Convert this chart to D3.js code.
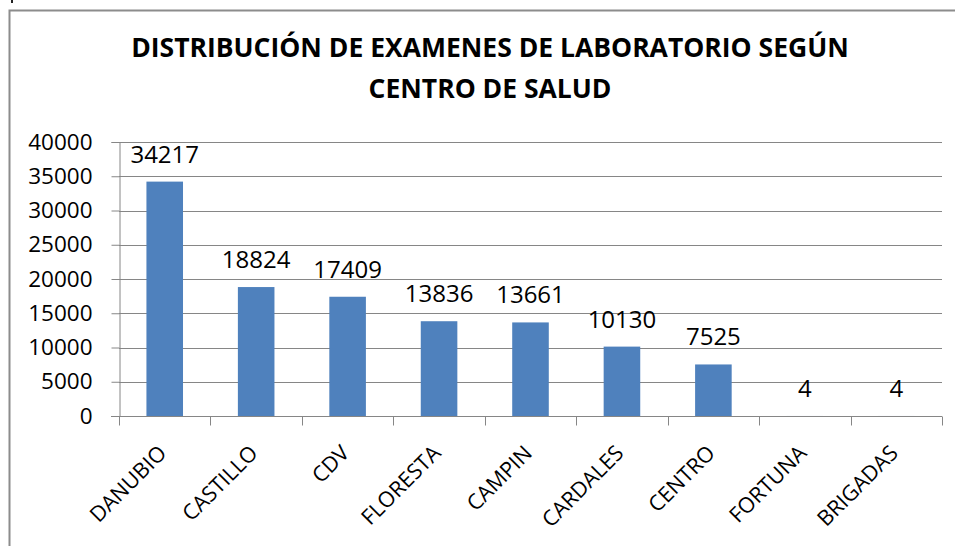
<!DOCTYPE html>
<html>
<head>
<meta charset="utf-8">
<script src="https://cdn.jsdelivr.net/npm/d3@7"></script>
<style>
  body { margin: 0; background: #fff; }
  svg { display: block; }
</style>
</head>
<body>
<div id="chart"></div>
<script>
// chart data
const centros = ["DANUBIO", "CASTILLO", "CDV", "FLORESTA", "CAMPIN", "CARDALES", "CENTRO", "FORTUNA", "BRIGADAS"];
const examenes = [34217, 18824, 17409, 13836, 13661, 10130, 7525, 4, 4];
const yTicks = [0, 5000, 10000, 15000, 20000, 25000, 30000, 35000, 40000];
const titleLines = ["DISTRIBUCIÓN DE EXAMENES DE LABORATORIO SEGÚN", "CENTRO DE SALUD"];

const width = 955, height = 546;
const margin = { top: 142, right: 13, bottom: 130, left: 119 };
const innerW = width - margin.left - margin.right;
const innerH = height - margin.top - margin.bottom;
const font = "'Open Sans', sans-serif";
const gridColor = "#868686";

const svg = d3.select("#chart").append("svg")
  .attr("width", width)
  .attr("height", height);

// outer frame (only left and top edges visible in the crop)
svg.append("path")
  .attr("d", "M9.5," + height + "V10.5H" + width)
  .attr("fill", "none")
  .attr("stroke", "#8c8c8c")
  .attr("stroke-width", 2);
// little stray mark above the frame corner
svg.append("rect")
  .attr("x", 11).attr("y", 0)
  .attr("width", 2).attr("height", 3)
  .attr("fill", "#222");

// title
svg.append("g").selectAll("text")
  .data(titleLines)
  .enter().append("text")
  .attr("x", 490)
  .attr("y", (d, i) => 57 + i * 41)
  .attr("text-anchor", "middle")
  .attr("font-family", font)
  .attr("font-weight", "bold")
  .attr("font-size", "26.5px")
  .attr("fill", "#000")
  .text(d => d);

const chart = svg.append("g")
  .attr("transform", "translate(" + margin.left + "," + margin.top + ")");

const x = d3.scaleBand().domain(centros).range([0, innerW]).paddingInner(0).paddingOuter(0);
const y = d3.scaleLinear().domain([0, 40000]).range([innerH, 0]);

// horizontal gridlines
chart.append("g")
  .selectAll("line")
  .data(yTicks.filter(d => d > 0))
  .enter().append("line")
  .attr("x1", 0).attr("x2", innerW)
  .attr("y1", d => Math.round(y(d)) + 0.5)
  .attr("y2", d => Math.round(y(d)) + 0.5)
  .attr("stroke", gridColor);

// y axis
const yAxis = chart.append("g")
  .attr("transform", "translate(0.5,0)")
  .call(d3.axisLeft(y).tickValues(yTicks).tickSize(8).tickPadding(19).tickFormat(d => d));
yAxis.select(".domain").attr("stroke", gridColor);
yAxis.selectAll(".tick line").attr("stroke", gridColor);
yAxis.selectAll(".tick text")
  .attr("font-family", font)
  .attr("font-size", "22.5px")
  .attr("fill", "#000");

// bars
const barW = x.bandwidth() * 0.4;
chart.append("g")
  .selectAll("rect")
  .data(examenes)
  .enter().append("rect")
  .attr("x", (d, i) => x(centros[i]) + (x.bandwidth() - barW) / 2)
  .attr("y", d => y(d))
  .attr("width", barW)
  .attr("height", d => innerH - y(d))
  .attr("fill", "#4f81bd");

// x axis with category boundary ticks
const xAxisG = chart.append("g")
  .attr("transform", "translate(0," + (innerH + 0.5) + ")");
xAxisG.append("line")
  .attr("x1", -8).attr("x2", innerW)
  .attr("stroke", gridColor);
const bounds = centros.map(c => x(c)).concat([innerW]);
xAxisG.selectAll(".bound")
  .data(bounds)
  .enter().append("line")
  .attr("class", "bound")
  .attr("x1", d => Math.round(d) + 0.5).attr("x2", d => Math.round(d) + 0.5)
  .attr("y1", 0).attr("y2", 9)
  .attr("stroke", gridColor);

// category labels rotated -45
xAxisG.selectAll(".cat")
  .data(centros)
  .enter().append("text")
  .attr("class", "cat")
  .attr("transform", d => "translate(" + (x(d) + x.bandwidth() / 2 + 3) + ",38) rotate(-45)")
  .attr("text-anchor", "end")
  .attr("font-family", font)
  .attr("font-size", "21.5px")
  .attr("fill", "#000")
  .text(d => d);

// data labels
chart.append("g")
  .selectAll("text")
  .data(examenes)
  .enter().append("text")
  .attr("x", (d, i) => x(centros[i]) + x.bandwidth() / 2)
  .attr("y", d => y(d) - 19)
  .attr("text-anchor", "middle")
  .attr("font-family", font)
  .attr("font-size", "24px")
  .attr("fill", "#000")
  .text(d => d);
</script>
</body>
</html>
